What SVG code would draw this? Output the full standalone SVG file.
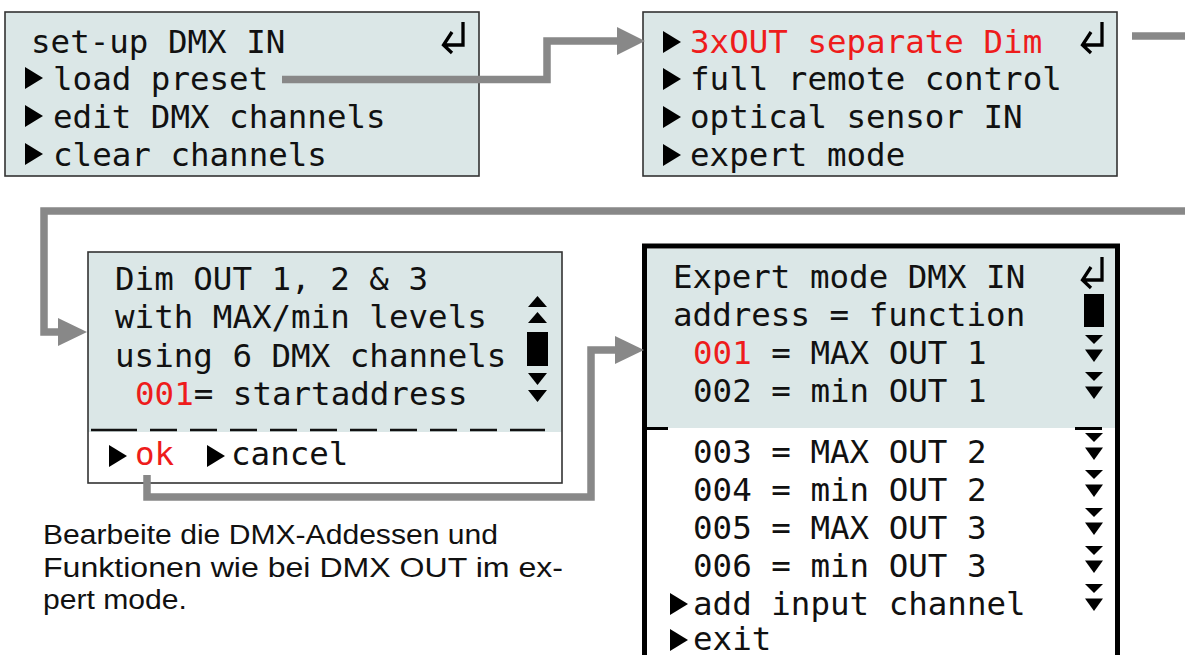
<svg xmlns="http://www.w3.org/2000/svg" xmlns:xlink="http://www.w3.org/1999/xlink" width="1185" height="655" viewBox="0 0 1185 655">
<style>
.lcd{font-family:"DejaVu Sans Mono","Liberation Mono",monospace;font-size:32.5px;fill:#111;white-space:pre}
.red{fill:#ee1c1c}
.scr{fill:#dbe7e7}
.frame{fill:none;stroke:#333;stroke-width:1.6}
.conn{fill:none;stroke:#888;stroke-width:7.5;stroke-linejoin:miter}
.arr{fill:#888}
.ret{fill:none;stroke:#000;stroke-width:3.3}
.note{font-family:"Liberation Sans",Arial,sans-serif;font-size:27px;fill:#111}
</style>
<defs>
<path id="tri" d="M0,0 L18,11 L0,22 Z" fill="#000"/>
<path id="up" d="M0,11 H19 L9.5,0 Z" fill="#000"/>
<path id="dn" d="M0,0 H19 L9.5,12 Z" fill="#000"/>
<path id="dn1" d="M0,0 H18 L9,9 Z" fill="#000"/>
<path id="dn2" d="M0,0 H18 L9,12.5 Z" fill="#000"/>
<g id="ret"><path class="ret" d="M21,0 V23 H2 M10,10 L1.5,23 L10,31"/></g>
<g id="pair"><use xlink:href="#dn1" y="0"/><use xlink:href="#dn2" y="14.5"/></g>
</defs>

<g id="panel-setup">
<rect x="5" y="12" width="474" height="164" class="scr"/>
<rect x="5" y="12" width="474" height="164" class="frame"/>
<use xlink:href="#ret" x="442" y="22"/>
<text class="lcd" x="31" y="53">set-up DMX IN</text>
<use xlink:href="#tri" x="25" y="67"/>
<text class="lcd" x="53" y="90">load preset</text>
<use xlink:href="#tri" x="25" y="105"/>
<text class="lcd" x="53" y="128">edit DMX channels</text>
<use xlink:href="#tri" x="25" y="143"/>
<text class="lcd" x="53" y="166">clear channels</text>
</g>

<g id="panel-preset">
<rect x="643" y="12" width="474" height="164" class="scr"/>
<rect x="643" y="12" width="474" height="164" class="frame"/>
<use xlink:href="#ret" x="1081" y="22"/>
<use xlink:href="#tri" x="663" y="31"/>
<text class="lcd red" x="690" y="53">3xOUT separate Dim</text>
<use xlink:href="#tri" x="663" y="68"/>
<text class="lcd" x="690" y="90">full remote control</text>
<use xlink:href="#tri" x="663" y="106"/>
<text class="lcd" x="690" y="128">optical sensor IN</text>
<use xlink:href="#tri" x="663" y="144"/>
<text class="lcd" x="690" y="166">expert mode</text>
</g>

<g id="panel-dim">
<rect x="88" y="252" width="474" height="231" fill="#fff"/>
<rect x="88" y="252" width="474" height="180" class="scr"/>
<path d="M91,430 H137 M150,430 H177 M190,430 H217 M230,430 H257 M270,430 H297 M310,430 H337 M350,430 H377 M390,430 H417 M430,430 H457 M470,430 H497 M510,430 H545" stroke="#111" stroke-width="2.5" fill="none"/>
<rect x="88" y="252" width="474" height="231" class="frame"/>
<text class="lcd" x="115" y="290">Dim OUT 1, 2 &amp; 3</text>
<text class="lcd" x="115" y="328">with MAX/min levels</text>
<text class="lcd" x="115" y="367">using 6 DMX channels</text>
<text class="lcd" x="135" y="405"><tspan class="red">001</tspan>= startaddress</text>
<use xlink:href="#up" x="528" y="296"/>
<use xlink:href="#up" x="528" y="312"/>
<rect x="527" y="332" width="21" height="34" fill="#000"/>
<use xlink:href="#dn" x="528" y="373"/>
<use xlink:href="#dn" x="528" y="390"/>
<use xlink:href="#tri" x="109" y="445"/>
<text class="lcd red" x="135" y="465">ok</text>
<use xlink:href="#tri" x="207" y="445"/>
<text class="lcd" x="231" y="465">cancel</text>
</g>

<g id="panel-expert">
<rect x="644.5" y="246" width="473" height="460" fill="#fff"/>
<rect x="647" y="249" width="468" height="179" class="scr"/>
<rect x="647" y="427" width="21" height="3" fill="#000"/>
<rect x="1075" y="427" width="27" height="3" fill="#000"/>
<rect x="644.5" y="246" width="473" height="460" fill="none" stroke="#000" stroke-width="5"/>
<use xlink:href="#ret" x="1081" y="257"/>
<rect x="1084" y="294" width="20" height="33" fill="#000"/>
<text class="lcd" x="673" y="288">Expert mode DMX IN</text>
<text class="lcd" x="673" y="326">address = function</text>
<text class="lcd" x="693" y="364"><tspan class="red">001</tspan> = MAX OUT 1</text>
<text class="lcd" x="693" y="402">002 = min OUT 1</text>
<text class="lcd" x="693" y="463">003 = MAX OUT 2</text>
<text class="lcd" x="693" y="501">004 = min OUT 2</text>
<text class="lcd" x="693" y="539">005 = MAX OUT 3</text>
<text class="lcd" x="693" y="577">006 = min OUT 3</text>
<use xlink:href="#tri" x="670" y="593"/>
<text class="lcd" x="693" y="615">add input channel</text>
<use xlink:href="#tri" x="670" y="629"/>
<text class="lcd" x="693" y="650">exit</text>
<use xlink:href="#pair" x="1085" y="335"/>
<use xlink:href="#pair" x="1085" y="372"/>
<use xlink:href="#pair" x="1085" y="433"/>
<use xlink:href="#pair" x="1085" y="470"/>
<use xlink:href="#pair" x="1085" y="508"/>
<use xlink:href="#pair" x="1085" y="546"/>
<use xlink:href="#pair" x="1085" y="584"/>
</g>

<g id="note">
<text class="note" x="43" y="544" textLength="455" lengthAdjust="spacingAndGlyphs">Bearbeite die DMX-Addessen und</text>
<text class="note" x="43" y="577" textLength="520" lengthAdjust="spacingAndGlyphs">Funktionen wie bei DMX OUT im ex-</text>
<text class="note" x="43" y="609" textLength="144" lengthAdjust="spacingAndGlyphs">pert mode.</text>
</g>

<g id="connectors">
<path class="conn" d="M282,79.5 H547 V41 H618"/>
<polygon class="arr" points="617,27 645,41 617,55"/>
<path class="conn" d="M1132,36 H1185"/>
<path class="conn" d="M1185,211 H44 V332 H59"/>
<polygon class="arr" points="58,318 87,332 58,346"/>
<path class="conn" d="M147,475 V497 H591 V350 H616"/>
<polygon class="arr" points="615,336 644,350 615,364"/>
</g>
</svg>
